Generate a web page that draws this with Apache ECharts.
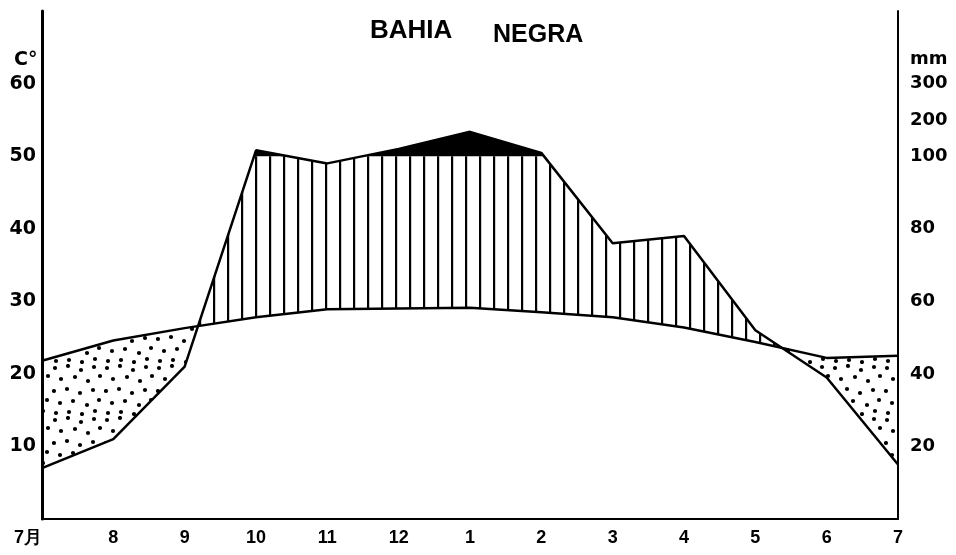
<!DOCTYPE html>
<html>
<head>
<meta charset="utf-8">
<script src="https://cdn.jsdelivr.net/npm/echarts@6/dist/echarts.min.js"></script>
<style>
html,body{margin:0;padding:0;background:#fff;}
#chart{width:956px;height:555px;}
</style>
</head>
<body>
<div id="chart"></div>
<script>
// ---- data ----
const monthLabels = ['7月','8','9','10','11','12','1','2','3','4','5','6','7'];
const temperature = [21.8, 24.6, 26.3, 27.8, 28.9, 29.0, 29.1, 28.5, 27.8, 26.4, 24.4, 22.2, 22.5]; // °C
const precipitation = [14, 22, 42, 116, 98, 120, 167, 109, 76, 78, 52, 39, 15]; // mm
const leftTickValues = [10, 20, 30, 40, 50, 60];
const rightTickValues = [10, 20, 30, 40, 50, 55, 60];
const rightTickLabels = ['20', '40', '60', '80', '100', '200', '300'];

// Walter–Lieth scale: 10 °C = 20 mm up to 100 mm, compressed above
function mmToScale(mm) { return mm <= 100 ? mm / 2 : 50 + (mm - 100) / 20; }

const T = temperature.map((v, i) => [i, v]);
const P = precipitation.map((v, i) => [i, mmToScale(v)]);
const LIMIT = 50;

function interp(poly, x) {
  for (let i = 0; i < poly.length - 1; i++) {
    const [x0, y0] = poly[i], [x1, y1] = poly[i + 1];
    if (x >= x0 - 1e-9 && x <= x1 + 1e-9) return x1 === x0 ? y0 : y0 + (y1 - y0) * (x - x0) / (x1 - x0);
  }
  return poly[poly.length - 1][1];
}
function capped(poly, lim) {
  const out = [];
  for (let i = 0; i < poly.length; i++) {
    const [x0, y0] = poly[i];
    out.push([x0, Math.min(y0, lim)]);
    if (i < poly.length - 1) {
      const [x1, y1] = poly[i + 1];
      if ((y0 - lim) * (y1 - lim) < 0) out.push([x0 + (x1 - x0) * (lim - y0) / (y1 - y0), lim]);
    }
  }
  return out;
}
function regions(up, lo) {
  const xs = Array.from(new Set(up.map(p => p[0]).concat(lo.map(p => p[0])))).sort((a, b) => a - b);
  const all = [];
  for (let i = 0; i < xs.length; i++) {
    all.push(xs[i]);
    if (i < xs.length - 1) {
      const a = xs[i], b = xs[i + 1];
      const da = interp(up, a) - interp(lo, a), db = interp(up, b) - interp(lo, b);
      if (da * db < 0) all.push(a + (b - a) * da / (da - db));
    }
  }
  const polys = []; let cur = null;
  for (let i = 0; i < all.length - 1; i++) {
    const a = all[i], b = all[i + 1], m = (a + b) / 2;
    if (interp(up, m) - interp(lo, m) > 0) {
      if (!cur) cur = { top: [[a, interp(up, a)]], bot: [[a, interp(lo, a)]] };
      cur.top.push([b, interp(up, b)]); cur.bot.push([b, interp(lo, b)]);
    } else if (cur) { polys.push(cur.top.concat(cur.bot.reverse())); cur = null; }
  }
  if (cur) polys.push(cur.top.concat(cur.bot.reverse()));
  return polys;
}
const dryPolys = regions(T, P);
const wetPolys = regions(capped(P, LIMIT), T);
const veryWetPolys = regions(P, [[0, LIMIT], [12, LIMIT]]);

// ---- patterns ----
function dotPattern() {
  const c = document.createElement('canvas'); c.width = 52; c.height = 52;
  const g = c.getContext('2d'); g.fillStyle = '#000';
  const dots = [[3,4],[16,2],[29,6],[42,3],[9,15],[23,13],[36,17],[48,12],[2,27],[15,25],[28,29],[41,26],[8,39],[21,37],[35,41],[47,36],[4,49],[17,48],[30,50],[43,47]];
  dots.forEach(([x, y]) => { g.beginPath(); g.arc(x, y, 2.1, 0, Math.PI * 2); g.fill(); });
  return { image: c, repeat: 'repeat' };
}
function hatchPattern() {
  const c = document.createElement('canvas'); c.width = 14; c.height = 4;
  const g = c.getContext('2d'); g.fillStyle = '#000'; g.fillRect(3, 0, 2.2, 4);
  return { image: c, repeat: 'repeat' };
}
const DOTS = dotPattern(), HATCH = hatchPattern();

const FONT = 'Liberation Sans';
const YFONT = 'DejaVu Sans';
const chart = echarts.init(document.getElementById('chart'), null, { renderer: 'canvas' });
chart.setOption({
  animation: false,
  backgroundColor: '#fff',
  title: [
    { text: 'BAHIA', left: 365, top: 13, textStyle: { fontFamily: FONT, fontSize: 26, fontWeight: 'bold', color: '#000' } },
    { text: 'NEGRA', left: 488, top: 18, textStyle: { fontFamily: FONT, fontSize: 25, fontWeight: 'bold', color: '#000' } }
  ],
  graphic: [
    { type: 'text', left: 14, top: 51, style: { text: 'C°', font: 'bold 19px "DejaVu Sans"', fill: '#000' } },
    { type: 'text', left: 910, top: 50, style: { text: 'mm', font: 'bold 18px "DejaVu Sans"', fill: '#000' } }
  ],
  grid: { left: 42, right: 58, top: 11, bottom: 36 },
  xAxis: {
    type: 'value', min: 0, max: 12, interval: 1,
    splitLine: { show: false },
    axisTick: { show: false },
    axisLine: { show: true, onZero: false, lineStyle: { color: '#000', width: 2 } },
    axisLabel: {
      color: '#000', fontFamily: FONT, fontSize: 18, fontWeight: 'bold', margin: 10,
      alignMinLabel: 'right',
      formatter: v => monthLabels[Math.round(v)]
    }
  },
  yAxis: [
    {
      type: 'value', min: 0, max: 70, interval: 10, position: 'left',
      splitLine: { show: false }, axisTick: { show: false },
      axisLine: { show: true, lineStyle: { color: '#000', width: 3 } },
      axisLabel: {
        color: '#000', fontFamily: YFONT, fontSize: 19, fontWeight: 'bold', margin: 6,
        formatter: v => leftTickValues.indexOf(v) >= 0 ? String(v) : ''
      }
    },
    {
      type: 'value', min: 0, max: 70, interval: 5, position: 'right',
      splitLine: { show: false }, axisTick: { show: false },
      axisLine: { show: true, lineStyle: { color: '#000', width: 2 } },
      axisLabel: {
        color: '#000', fontFamily: YFONT, fontSize: 18, fontWeight: 'bold', margin: 12,
        formatter: v => { const k = rightTickValues.indexOf(v); return k >= 0 ? rightTickLabels[k] : ''; }
      }
    }
  ],
  series: [
    {
      type: 'custom', coordinateSystem: 'cartesian2d', silent: true, z: 1,
      data: [[0, 0]],
      renderItem: function (params, api) {
        const children = [];
        const add = (polys, fill) => polys.forEach(poly => children.push({
          type: 'polygon', shape: { points: poly.map(p => api.coord(p)) }, style: { fill: fill, stroke: null }
        }));
        add(dryPolys, DOTS);
        add(wetPolys, HATCH);
        add(veryWetPolys, '#000');
        return { type: 'group', children: children };
      }
    },
    {
      name: 'temperature', type: 'line', data: T, symbol: 'none', z: 3,
      lineStyle: { color: '#000', width: 2.5 }
    },
    {
      name: 'precipitation', type: 'line', data: P, symbol: 'none', z: 3,
      lineStyle: { color: '#000', width: 2.5 }
    }
  ]
});
</script>
</body>
</html>
